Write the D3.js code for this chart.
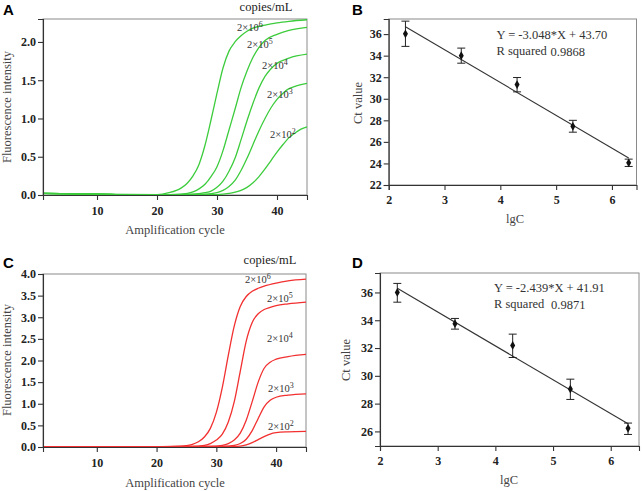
<!DOCTYPE html>
<html><head><meta charset="utf-8">
<script src="https://cdn.jsdelivr.net/npm/d3@7"></script>
<style>
html,body{margin:0;padding:0;background:#fff;}
svg{display:block;}
</style></head>
<body>
<svg id="chart" width="642" height="491"></svg>
<script>
// ---------- DATA ----------
const concLabels = ["6", "5", "4", "3", "2"]; // exponents of 2×10^n copies/mL

// Panel A (green) amplification curves: [cycle, fluorescence]
const greenA6 = [[1,0.02],[10,0.01],[20,0.005],[22,0.03],[24,0.09],[25,0.15],[26,0.25],[27,0.40],[28,0.65],[29,0.98],[30,1.33],[31,1.66],[32,1.88],[33,2.0],[34,2.08],[35,2.14],[36,2.18],[38,2.22],[40,2.25],[42,2.27],[45,2.29]];
const greenA5 = [[1,0.02],[10,0.01],[20,0.0],[24,0.01],[26,0.04],[27,0.08],[28,0.14],[29,0.24],[30,0.37],[31,0.58],[32,0.85],[33,1.12],[34,1.40],[35,1.62],[36,1.80],[37,1.93],[38,2.02],[40,2.10],[42,2.15],[45,2.19]];
const greenA4 = [[1,0.02],[10,0.01],[20,0.0],[26,0.01],[28,0.03],[29,0.05],[30,0.10],[31,0.18],[32,0.31],[33,0.48],[34,0.72],[35,0.97],[36,1.20],[37,1.40],[38,1.55],[39,1.65],[40,1.72],[42,1.79],[45,1.84]];
const greenA3 = [[1,0.02],[10,0.01],[20,0.0],[28,0.01],[30,0.03],[31,0.06],[32,0.11],[33,0.19],[34,0.32],[35,0.48],[36,0.66],[37,0.84],[38,1.0],[39,1.14],[40,1.25],[41,1.33],[42,1.39],[43,1.42],[45,1.46]];
const greenA2 = [[1,0.02],[10,0.01],[20,0.0],[30,0.005],[32,0.02],[34,0.06],[35,0.10],[36,0.16],[37,0.24],[38,0.34],[39,0.45],[40,0.56],[41,0.66],[42,0.75],[43,0.81],[44,0.86],[45,0.89]];

// Panel C (red) amplification curves
const redC6 = [[1,0.01],[20,0.01],[23,0.015],[25,0.03],[26,0.06],[27,0.12],[28,0.23],[29,0.43],[30,0.80],[31,1.38],[32,2.12],[33,2.80],[34,3.25],[35,3.48],[36,3.60],[37,3.67],[38,3.72],[40,3.79],[42,3.84],[45,3.88]];
const redC5 = [[1,0.01],[20,0.01],[26,0.015],[28,0.04],[29,0.08],[30,0.16],[31,0.30],[32,0.58],[33,1.05],[34,1.75],[35,2.45],[36,2.88],[37,3.08],[38,3.18],[39,3.23],[40,3.27],[42,3.31],[45,3.35]];
const redC4 = [[1,0.01],[20,0.01],[29,0.015],[31,0.04],[32,0.08],[33,0.16],[34,0.32],[35,0.62],[36,1.05],[37,1.5],[38,1.82],[39,1.96],[40,2.03],[42,2.09],[45,2.14]];
const redC3 = [[1,0.01],[20,0.01],[31,0.015],[33,0.04],[34,0.08],[35,0.18],[36,0.38],[37,0.66],[38,0.93],[39,1.08],[40,1.15],[42,1.20],[45,1.23]];
const redC2 = [[1,0.01],[20,0.01],[33,0.012],[34,0.02],[35,0.05],[36,0.10],[37,0.17],[38,0.24],[39,0.30],[40,0.33],[42,0.35],[45,0.36]];

// Panel B standard curve
const lgC = [2.3, 3.3, 4.3, 5.3, 6.3];
const ctB = [36.03, 34.0, 31.32, 27.44, 24.06];
const ctBUpper = [37.2, 34.7, 31.97, 28.0, 24.4];
const ctBLower = [34.86, 33.3, 30.64, 26.9, 23.72];
const fitB = [-3.048, 43.70]; // slope, intercept
const fitBText = ["Y = -3.048*X + 43.70", "R squared", "0.9868"];

// Panel D standard curve
const ctD = [36.0, 33.75, 32.19, 29.05, 26.22];
const ctDUpper = [36.65, 34.13, 33.0, 29.76, 26.6];
const ctDLower = [35.3, 33.36, 31.32, 28.3, 25.78];
const fitD = [-2.439, 41.91];
const fitDText = ["Y = -2.439*X + 41.91", "R squared", "0.9871"];
const fitRange = [2.3, 6.3];

const xTicksCycle = [10, 20, 30, 40];
const yTicksA = [0, 0.5, 1.0, 1.5, 2.0];
const yTicksC = [0, 0.5, 1.0, 1.5, 2.0, 2.5, 3.0, 3.5, 4.0];
const xTicksLg = [2, 3, 4, 5, 6];
const yTicksB = [22, 24, 26, 28, 30, 32, 34, 36];
const yTicksD = [26, 28, 30, 32, 34, 36];

// ---------- DRAWING ----------
const svg = d3.select("#chart");
const SERIF = "'Liberation Serif', 'Times New Roman', serif";
const SANS = "'Liberation Sans', Arial, sans-serif";

function frame(g, x0, y0, x1, y1) {
  g.append("rect").attr("x", x0).attr("y", y0).attr("width", x1 - x0).attr("height", y1 - y0)
    .attr("fill", "none").attr("stroke", "#8a8a8a").attr("stroke-width", 1);
}

function styleAxis(sel) {
  sel.attr("font-family", null).attr("font-size", null);
  sel.select(".domain").attr("stroke", "#333").attr("stroke-width", 1.1);
  sel.selectAll(".tick line").attr("stroke", "#333").attr("stroke-width", 1.1);
  sel.selectAll(".tick text")
    .style("font-family", SERIF).style("font-weight", "bold")
    .style("font-size", "12px").attr("fill", "#222");
}

function panelLabel(x, y, t) {
  svg.append("text").attr("x", x).attr("y", y).text(t)
    .style("font-family", SANS).style("font-weight", "bold").style("font-size", "15px").attr("fill", "#000");
}

function axisTitle(x, y, t, rotate) {
  const el = svg.append("text").attr("text-anchor", "middle").text(t)
    .style("font-family", SERIF).style("font-size", "12.5px").attr("fill", "#444");
  if (rotate) el.attr("transform", `translate(${x},${y}) rotate(-90)`);
  else el.attr("x", x).attr("y", y);
}

function ampPanel(cfg) {
  const g = svg.append("g");
  const x = d3.scaleLinear().domain([1, 45]).range([cfg.left, cfg.right]);
  const y = d3.scaleLinear().domain(cfg.yDomain).range([cfg.bottom, cfg.top]);
  frame(g, cfg.left, cfg.top, cfg.right, cfg.bottom);
  const line = d3.line().x(d => x(d[0])).y(d => y(d[1])).curve(d3.curveMonotoneX);
  g.append("g").selectAll("path").data(cfg.curves).join("path")
    .attr("d", d => line(d)).attr("fill", "none").attr("stroke", cfg.color).attr("stroke-width", 1.3);
  const ax = g.append("g").attr("transform", `translate(0,${cfg.bottom})`)
    .call(d3.axisBottom(x).tickValues(xTicksCycle).tickSize(5).tickPadding(6));
  styleAxis(ax);
  const ay = g.append("g").attr("transform", `translate(${cfg.left},0)`)
    .call(d3.axisLeft(y).tickValues(cfg.yTicks).tickFormat(d3.format(".1f")).tickSize(5).tickPadding(2));
  styleAxis(ay);
  // concentration labels
  cfg.labelPos.forEach((p, i) => {
    const t = g.append("text").attr("x", p[0]).attr("y", p[1])
      .style("font-family", SERIF).style("font-size", "10.5px").attr("fill", "#333");
    t.append("tspan").text("2×10");
    t.append("tspan").text(concLabels[i]).attr("dy", -4).style("font-size", "8px");
  });
  g.append("text").attr("x", cfg.unitPos[0]).attr("y", cfg.unitPos[1]).attr("text-anchor", "middle")
    .text("copies/mL").style("font-family", SERIF).style("font-size", "12.5px").attr("fill", "#222");
}

function stdPanel(cfg) {
  const g = svg.append("g");
  const x = d3.scaleLinear().domain(cfg.xDomain).range([cfg.left, cfg.right]);
  const y = d3.scaleLinear().domain(cfg.yDomain).range([cfg.bottom, cfg.top]);
  frame(g, cfg.left, cfg.top, cfg.right, cfg.bottom);
  // fit line
  g.append("line")
    .attr("x1", x(fitRange[0])).attr("y1", y(cfg.fit[0] * fitRange[0] + cfg.fit[1]))
    .attr("x2", x(fitRange[1])).attr("y2", y(cfg.fit[0] * fitRange[1] + cfg.fit[1]))
    .attr("stroke", "#333").attr("stroke-width", 1.1);
  // error bars
  const eb = g.append("g").attr("stroke", "#222").attr("stroke-width", 1);
  lgC.forEach((v, i) => {
    const cx = x(v);
    eb.append("line").attr("x1", cx).attr("x2", cx).attr("y1", y(cfg.upper[i])).attr("y2", y(cfg.lower[i]));
    eb.append("line").attr("x1", cx - 4).attr("x2", cx + 4).attr("y1", y(cfg.upper[i])).attr("y2", y(cfg.upper[i]));
    eb.append("line").attr("x1", cx - 4).attr("x2", cx + 4).attr("y1", y(cfg.lower[i])).attr("y2", y(cfg.lower[i]));
  });
  g.append("g").selectAll("path").data(lgC).join("path")
    .attr("d", d3.symbol(d3.symbolDiamond, 22))
    .attr("transform", (d, i) => `translate(${x(d)},${y(cfg.ct[i])})`)
    .attr("fill", "#111");
  const ax = g.append("g").attr("transform", `translate(0,${cfg.bottom})`)
    .call(d3.axisBottom(x).tickValues(xTicksLg).tickFormat(d3.format("d")).tickSize(5).tickPadding(5));
  styleAxis(ax);
  const ay = g.append("g").attr("transform", `translate(${cfg.left},0)`)
    .call(d3.axisLeft(y).tickValues(cfg.yTicks).tickFormat(d3.format("d")).tickSize(5).tickPadding(2));
  styleAxis(ay);
  const txt = (x0, y0, t) => g.append("text").attr("x", x0).attr("y", y0).text(t)
      .style("font-family", SERIF).style("font-size", "12.5px").attr("fill", "#333");
  txt(cfg.textPos[0], cfg.textPos[1], cfg.text[0]);
  txt(cfg.textPos[0], cfg.textPos[1] + 16, cfg.text[1]);
  txt(cfg.textPos[0] + cfg.valueOffset, cfg.textPos[1] + 17, cfg.text[2]);
}

// Panel A
ampPanel({left: 43, right: 307, top: 19, bottom: 195, yDomain: [0, 2.3], yTicks: yTicksA,
  color: "#3ccc3c", curves: [greenA6, greenA5, greenA4, greenA3, greenA2],
  labelPos: [[237, 31], [247, 48], [262, 69], [267, 98], [270, 138]], unitPos: [266, 11]});
panelLabel(3, 15, "A");
axisTitle(11, 107, "Fluorescence intensity", true);
axisTitle(175, 234, "Amplification cycle", false);

// Panel C
ampPanel({left: 43, right: 306, top: 274, bottom: 447, yDomain: [0, 4.0], yTicks: yTicksC,
  color: "#f23030", curves: [redC6, redC5, redC4, redC3, redC2],
  labelPos: [[245, 283], [267, 302], [267, 342], [268, 392], [268, 430]], unitPos: [270, 264]});
panelLabel(3, 268, "C");
axisTitle(11, 360, "Fluorescence intensity", true);
axisTitle(175, 487, "Amplification cycle", false);

// Panel B
stdPanel({left: 388.7, right: 636.5, top: 19, bottom: 185, xDomain: [2, 6.44], yDomain: [22, 37.4],
  yTicks: yTicksB, ct: ctB, upper: ctBUpper, lower: ctBLower, fit: fitB, text: fitBText,
  textPos: [496.5, 39], valueOffset: 54});
panelLabel(352, 15, "B");
axisTitle(362, 103, "Ct value", true);
axisTitle(515, 223, "lgC", false);

// Panel D
stdPanel({left: 380, right: 639, top: 273, bottom: 446, xDomain: [2, 6.49], yDomain: [24.95, 37.4],
  yTicks: yTicksD, ct: ctD, upper: ctDUpper, lower: ctDLower, fit: fitD, text: fitDText,
  textPos: [494, 292], valueOffset: 57});
panelLabel(352, 268, "D");
axisTitle(350, 360, "Ct value", true);
axisTitle(509, 484, "lgC", false);
</script>
</body></html>
